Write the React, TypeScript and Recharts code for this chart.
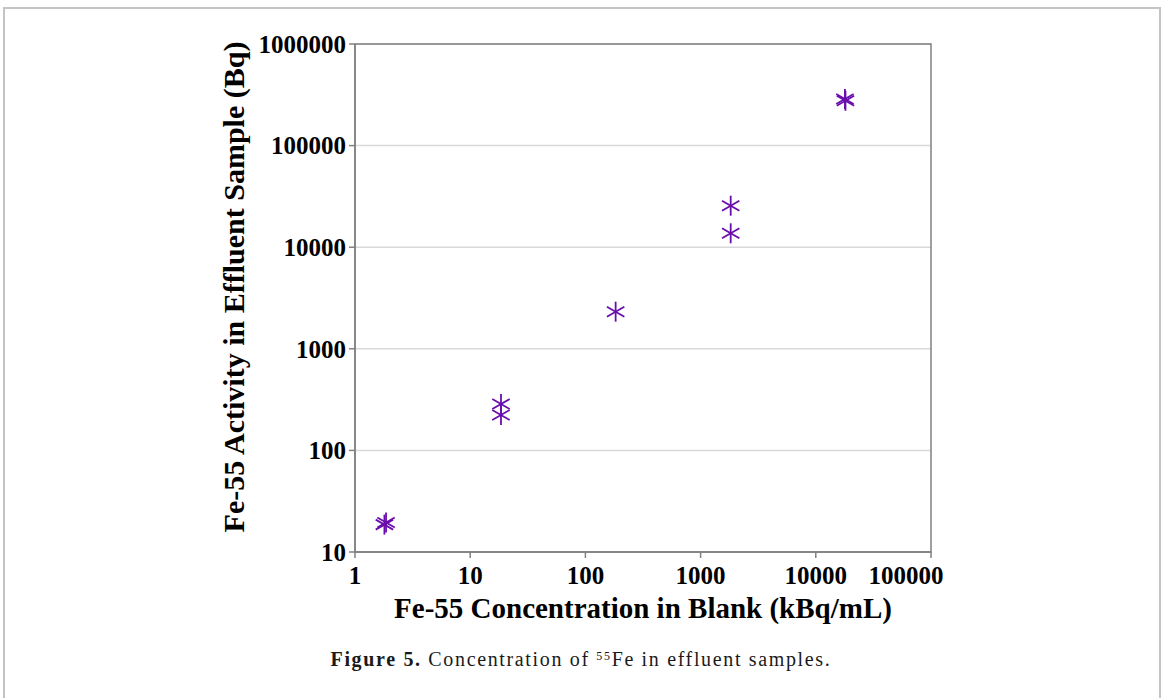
import React from "react";
import {
  ScatterChart,
  Scatter,
  XAxis,
  YAxis,
  CartesianGrid,
  ReferenceArea,
} from "recharts";

const blankConc = [1.8, 1.86, 18.5, 18.5, 183, 1825, 1825, 17900, 18100];
const effluentActivity = [18.6, 19.5, 286, 223, 2320, 25600, 13700, 287000, 276000];
const xTicks = [1, 10, 100, 1000, 10000, 100000];
const yTicks = [10, 100, 1000, 10000, 100000, 1000000];

const data = blankConc.map((x, i) => ({ x, y: effluentActivity[i] }));

const PURPLE = "#6a0dad";
const AXIS = "#808080";
const FONT = "'Liberation Serif', 'Times New Roman', serif";

const Asterisk = (props: any) => {
  const { cx, cy } = props;
  if (cx == null || cy == null) return null;
  const v = 10;
  const dx = 8.7;
  const dy = 5;
  return (
    <g stroke={PURPLE} strokeWidth={1.8} strokeLinecap="butt">
      <line x1={cx} y1={cy - v} x2={cx} y2={cy + v} />
      <line x1={cx - dx} y1={cy - dy} x2={cx + dx} y2={cy + dy} />
      <line x1={cx - dx} y1={cy + dy} x2={cx + dx} y2={cy - dy} />
    </g>
  );
};

const tickStyle = {
  fill: "#000",
  fontFamily: FONT,
  fontWeight: 700,
  fontSize: 25,
};

const XTick = (props: any) => {
  const { x, y, payload } = props;
  const last = payload.value === xTicks[xTicks.length - 1];
  return (
    <text
      x={x + (last ? -25 : 0)}
      y={y}
      dy="0.71em"
      textAnchor="middle"
      {...tickStyle}
    >
      {String(payload.value)}
    </text>
  );
};

export default function App() {
  return (
    <div
      style={{
        position: "absolute",
        left: 0,
        top: 0,
        width: 1163,
        height: 698,
        background: "#fff",
        overflow: "hidden",
      }}
    >
      <div
        style={{
          position: "absolute",
          left: 3,
          top: 7,
          width: 1154,
          height: 720,
          border: "2px solid #c4c4c4",
        }}
      />
      <div style={{ position: "absolute", left: 0, top: 0 }}>
        <ScatterChart
          width={1163}
          height={698}
          margin={{ top: 44, left: 295, right: 232, bottom: 116 }}
        >
          <CartesianGrid vertical={false} stroke="#d9d9d9" strokeWidth={1.5} />
          <XAxis
            dataKey="x"
            type="number"
            scale="log"
            domain={[1, 100000]}
            ticks={xTicks}
            allowDataOverflow
            height={30}
            stroke={AXIS}
            strokeWidth={1.5}
            tickSize={6}
            tickMargin={8}
            tick={<XTick />}
            interval={0}
          />
          <YAxis
            dataKey="y"
            type="number"
            scale="log"
            domain={[10, 1000000]}
            ticks={yTicks}
            allowDataOverflow
            width={60}
            stroke={AXIS}
            strokeWidth={1.5}
            tickSize={6}
            tickMargin={3}
            tick={tickStyle}
            interval={0}
          />
          <ReferenceArea
            x1={1}
            x2={100000}
            y1={10}
            y2={1000000}
            fill="none"
            stroke={AXIS}
            strokeWidth={1.5}
            fillOpacity={0}
            strokeOpacity={1}
          />
          <Scatter
            data={data}
            shape={<Asterisk />}
            isAnimationActive={false}
          />
        </ScatterChart>
      </div>
      <div
        style={{
          position: "absolute",
          left: 234,
          top: 287,
          transform: "translate(-50%, -50%) rotate(-90deg)",
          whiteSpace: "nowrap",
          fontFamily: FONT,
          fontWeight: 700,
          fontSize: 30,
          color: "#000",
        }}
      >
        Fe-55 Activity in Effluent Sample (Bq)
      </div>
      <div
        style={{
          position: "absolute",
          left: 643,
          top: 608,
          transform: "translate(-50%, -50%)",
          whiteSpace: "nowrap",
          fontFamily: FONT,
          fontWeight: 700,
          fontSize: 29,
          color: "#000",
        }}
      >
        Fe-55 Concentration in Blank (kBq/mL)
      </div>
      <div
        style={{
          position: "absolute",
          left: 581,
          top: 659,
          transform: "translate(-50%, -50%)",
          whiteSpace: "nowrap",
          fontFamily: FONT,
          fontSize: 20,
          letterSpacing: 1.65,
          color: "#1a1a1a",
        }}
      >
        <b>Figure 5.</b> Concentration of{" "}
        <sup style={{ fontSize: 12, verticalAlign: "0.5em", lineHeight: 0 }}>55</sup>Fe in effluent samples.
      </div>
    </div>
  );
}
